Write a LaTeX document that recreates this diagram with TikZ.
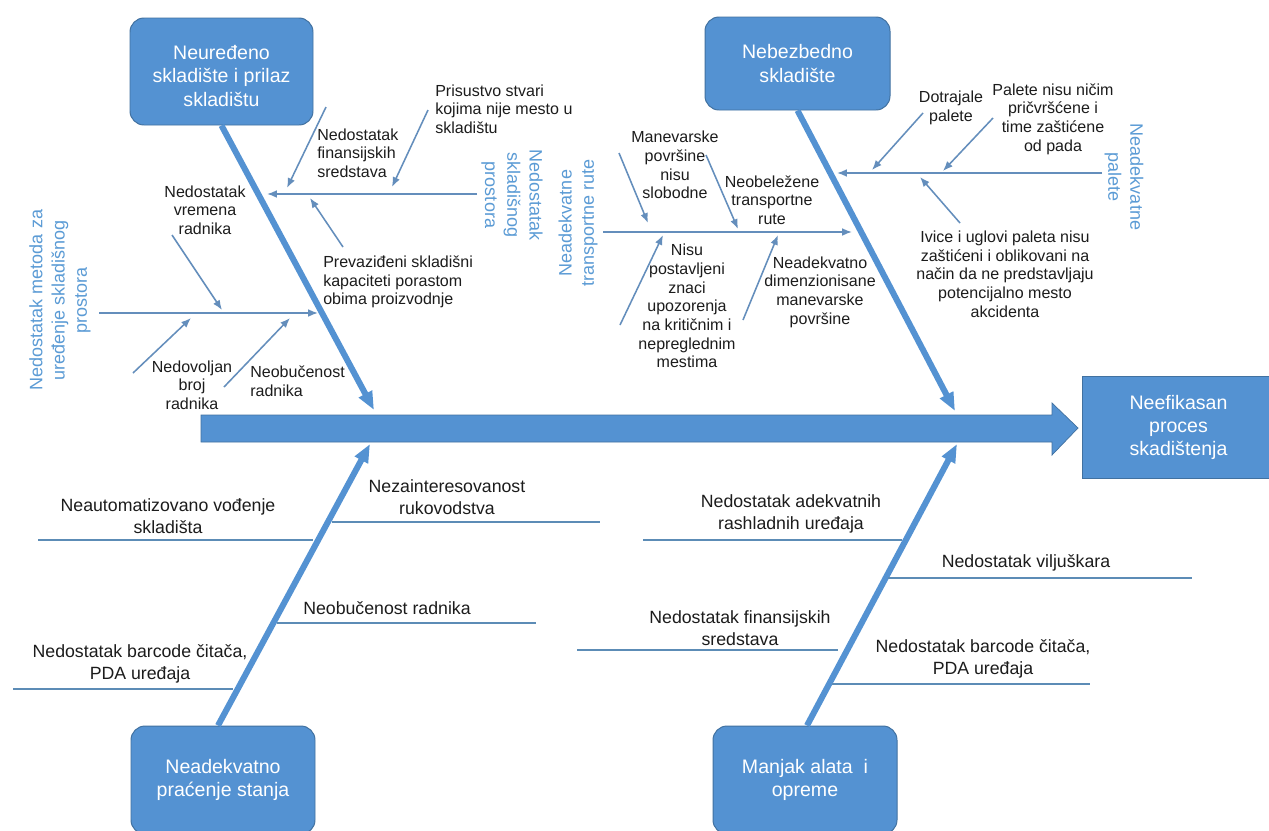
\documentclass[tikz,border=0pt]{standalone}
\usepackage{fontspec}
\setmainfont{Liberation Sans}
\usetikzlibrary{arrows.meta}
\definecolor{boxblue}{RGB}{84,146,210}
\definecolor{boxedge}{RGB}{65,113,160}
\definecolor{thinblue}{RGB}{100,142,188}
\definecolor{linegray}{RGB}{92,140,182}
\definecolor{lbl}{RGB}{91,155,213}
\definecolor{txt}{RGB}{28,28,28}
\newcommand{\pxu}{0.025cm}
\begin{document}
\begin{tikzpicture}[x=0.025cm,y=-0.025cm,
  catbox/.style={draw=boxedge, line width=0.7pt, fill=boxblue, rounded corners=10pt, text=white,
    align=center, font=\fontsize{13.9}{16.4}\selectfont, inner sep=0pt},
  boxtext/.style={text=white, align=center, font=\fontsize{13.9}{16.4}\selectfont, inner sep=0pt},
  bone/.style={draw=boxblue, line width=4.3pt, -{Triangle[length=13pt,width=10pt]}},
  thinarrow/.style={draw=thinblue, line width=1.1pt, -{Latex[length=7pt,width=5.5pt]}},
  bline/.style={draw=linegray, line width=2pt},
  lab/.style={align=center, text=txt, font=\fontsize{11.4}{13.3}\selectfont, inner sep=0pt},
  labl/.style={lab, align=left, anchor=west},
  blab/.style={align=center, text=txt, font=\fontsize{12.6}{15.2}\selectfont, inner sep=0pt},
  vlab/.style={align=center, text=lbl, font=\fontsize{12.8}{15.8}\selectfont, inner sep=0pt}]
\clip (0,0) rectangle (1269,830);
\fill[white] (0,0) rectangle (1269,830);

% ---------- category boxes ----------
\node[catbox, minimum width=183*\pxu, minimum height=107*\pxu] (c1) at (221.5,71.5) {};
\node[boxtext] (c1t) at ([yshift=-3.2pt]c1.center) {Neuređeno\\skladište i prilaz\\skladištu};
\node[catbox, minimum width=185*\pxu, minimum height=93*\pxu] (c2) at (797.5,63.5) {Nebezbedno\\skladište};
\node[catbox, minimum width=184*\pxu, minimum height=108*\pxu] (c3) at (223,780) {Neadekvatno\\praćenje stanja};
\node[catbox, minimum width=184*\pxu, minimum height=108*\pxu] (c4) at (805,780) {Manjak alata\ \ i\\opreme};
\node[catbox, sharp corners, minimum width=193*\pxu, minimum height=102*\pxu] (eff) at (1178.5,427) {Neefikasan\\proces\\skadištenja};

% ---------- spine ----------
\filldraw[fill=boxblue, draw=boxedge, line width=0.5pt]
  (201,415) -- (1052,415) -- (1052,403) -- (1078,428) -- (1052,455) -- (1052,442) -- (201,442) -- cycle;

% ---------- main bones ----------
\coordinate (t1) at (374,410);
\coordinate (t2) at (955,411);
\coordinate (t3) at (370,444);
\coordinate (t4) at (957,444);
\draw[bone] (c1.south) -- (t1);
\draw[bone] (c2.south) -- (t2);
\draw[bone] ([xshift=-5*\pxu]c3.north) -- (t3);
\draw[bone] ([xshift=2*\pxu]c4.north) -- (t4);

% ---------- horizontal sub-bones (top) ----------
\coordinate (h1s) at (477,194);  \coordinate (h1e) at (267,194);
\coordinate (h2s) at (99,313);   \coordinate (h2e) at (318,313);
\coordinate (h3s) at (603,232);  \coordinate (h3e) at (852,232);
\coordinate (h4s) at (1102,173); \coordinate (h4e) at (837,173);
\draw[thinarrow] (h1s) -- (h1e);
\draw[thinarrow] (h2s) -- (h2e);
\draw[thinarrow] (h3s) -- (h3e);
\draw[thinarrow] (h4s) -- (h4e);

% ---------- small arrows ----------
\coordinate (a1s) at (326,107);  \coordinate (a1e) at (287,188);
\coordinate (a2s) at (428,110);  \coordinate (a2e) at (392,187);
\coordinate (a3s) at (343,247);  \coordinate (a3e) at (310,198);
\coordinate (a4s) at (172,235);  \coordinate (a4e) at (222,310);
\coordinate (a5s) at (133,373);  \coordinate (a5e) at (191,318);
\coordinate (a6s) at (224,387);  \coordinate (a6e) at (290,318);
\coordinate (a7s) at (619,153);  \coordinate (a7e) at (648,223);
\coordinate (a8s) at (706,155);  \coordinate (a8e) at (738,229);
\coordinate (a9s) at (620,325);  \coordinate (a9e) at (663,235);
\coordinate (a10s) at (743,320); \coordinate (a10e) at (778,235);
\coordinate (a11s) at (923,113); \coordinate (a11e) at (872,170);
\coordinate (a12s) at (993,118); \coordinate (a12e) at (943,171);
\coordinate (a13s) at (960,223); \coordinate (a13e) at (920,177);
\foreach \i in {1,...,13} { \draw[thinarrow] (a\i s) -- (a\i e); }

% ---------- bottom lines ----------
\coordinate (l1s) at (38,540);  \coordinate (l1e) at (313,540);
\coordinate (l2s) at (332,522); \coordinate (l2e) at (600,522);
\coordinate (l3s) at (277,623); \coordinate (l3e) at (536,623);
\coordinate (l4s) at (13,689);  \coordinate (l4e) at (233,689);
\coordinate (l5s) at (643,540); \coordinate (l5e) at (902,540);
\coordinate (l6s) at (888,578); \coordinate (l6e) at (1192,578);
\coordinate (l7s) at (577,650); \coordinate (l7e) at (838,650);
\coordinate (l8s) at (832,684); \coordinate (l8e) at (1090,684);
\foreach \i in {1,...,8} { \draw[bline] (l\i s) -- (l\i e); }

% ---------- vertical category labels ----------
\node[vlab, rotate=90] (v1) at (60,300) {Nedostatak metoda za\\uređenje skladišnog\\prostora};
\node[vlab, rotate=-90] (v2) at (512,195) {Nedostatak\\skladišnog\\prostora};
\node[vlab, rotate=90] (v3) at (578,223) {Neadekvatne\\transportne rute};
\node[vlab, rotate=-90] (v4) at (1124,177) {Neadekvatne\\palete};

% ---------- top-left labels ----------
\node[labl] (n1) at (317,153) {Nedostatak\\finansijskih\\sredstava};
\node[labl] (n2) at (435,109) {Prisustvo stvari\\kojima nije mesto u\\skladištu};
\node[labl] (n3) at (323,282) {Prevaziđeni skladišni\\kapaciteti porastom\\obima proizvodnje};
\node[lab] (n4) at (205,210) {Nedostatak\\vremena\\radnika};
\node[lab] (n5) at (192,385) {Nedovoljan\\broj\\radnika};
\node[labl] (n6) at (250,381) {Neobučenost\\radnika};

% ---------- top-right labels ----------
\node[lab] (m1) at (675,165) {Manevarske\\površine\\nisu\\slobodne};
\node[lab] (m2) at (772,200) {Neobeležene\\transportne\\rute};
\node[lab] (m3) at (687,306) {Nisu\\postavljeni\\znaci\\upozorenja\\na kritičnim i\\nepreglednim\\mestima};
\node[lab] (m4) at (820,292) {Neadekvatno\\dimenzionisane\\manevarske\\površine};
\node[lab] (p1) at (951,108) {Dotrajale\\palete};
\node[lab] (p2) at (1053,119) {Palete nisu ničim\\pričvršćene i\\time zaštićene\\od pada};
\node[lab] (p3) at (1005,274) {Ivice i uglovi paleta nisu\\zaštićeni i oblikovani na\\način da ne predstavljaju\\potencijalno mesto\\akcidenta};

% ---------- bottom labels ----------
\node[blab] (b1) at (168,516) {Neautomatizovano vođenje\\skladišta};
\node[blab] (b2) at (447,497) {Nezainteresovanost\\rukovodstva};
\node[blab] (b3) at (387,608) {Neobučenost radnika};
\node[blab] (b4) at (140,664) {Nedostatak barcode čitača,\\PDA uređaja};
\node[blab] (b5) at (791,514) {Nedostatak adekvatnih\\rashladnih uređaja};
\node[blab] (b6) at (1026,563) {Nedostatak viljuškara};
\node[blab] (b7) at (740,628) {Nedostatak finansijskih\\sredstava};
\node[blab] (b8) at (983,659) {Nedostatak barcode čitača,\\PDA uređaja};
\end{tikzpicture}
\end{document}
